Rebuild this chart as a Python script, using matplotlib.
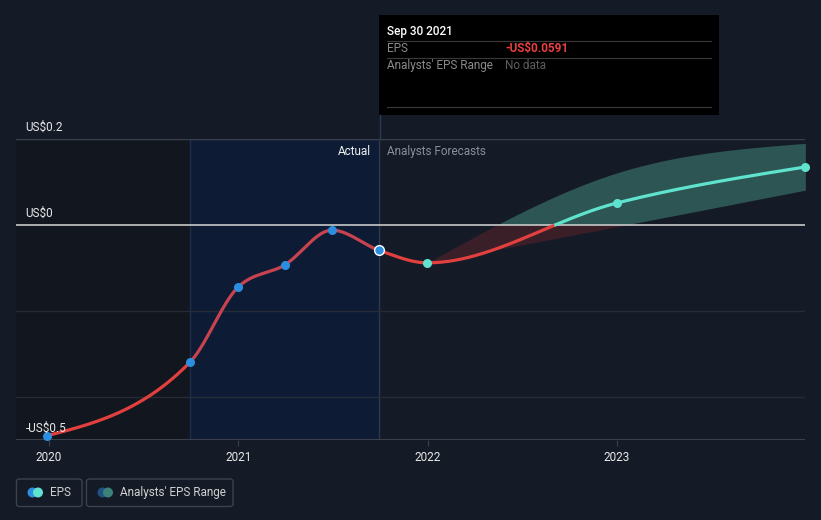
import numpy as np
import matplotlib
matplotlib.use("Agg")
import matplotlib.pyplot as plt
from matplotlib.patches import Rectangle, FancyBboxPatch, Circle
from matplotlib.transforms import IdentityTransform

plt.rcParams['font.family'] = ['Roboto', 'DejaVu Sans']

# ---- data ----
actual_x = [2019.99, 2020.745, 2021.0, 2021.245, 2021.495, 2021.745]
actual_eps = [-0.490, -0.319, -0.144, -0.093, -0.012, -0.0591]
forecast_x = [2021.745, 2021.998, 2022.998, 2023.995]
forecast_eps = [-0.0591, -0.088, 0.051, 0.135]
range_x = [2021.998, 2022.998, 2023.995]
range_low = [-0.088, -0.004, 0.081]
range_high = [-0.088, 0.121, 0.190]
year_ticks = [2020, 2021, 2022, 2023]
y_ticks = [0.2, 0.0, -0.5]
y_labels = ["US$0.2", "US$0", "-US$0.5"]

BG = "#151b26"
RED = "#e2403f"
TEAL = "#5fe3cf"
BLUE = "#2b8ee0"


def monotone(xs, ys, n=200):
    xs = np.asarray(xs, float); ys = np.asarray(ys, float)
    h = np.diff(xs); s = np.diff(ys) / h
    m = np.zeros_like(ys)
    for i in range(1, len(xs) - 1):
        p = (s[i - 1] * h[i] + s[i] * h[i - 1]) / (h[i - 1] + h[i])
        m[i] = (np.sign(s[i - 1]) + np.sign(s[i])) * min(abs(s[i - 1]), abs(s[i]), 0.5 * abs(p))
    if len(xs) > 2:
        m[0] = (3 * s[0] - m[1]) / 2
        m[-1] = (3 * s[-1] - m[-2]) / 2
    else:
        m[0] = m[-1] = s[0]
    xo, yo = [], []
    for i in range(len(xs) - 1):
        t = np.linspace(0, 1, n)
        hh = h[i]
        h00 = 2 * t**3 - 3 * t**2 + 1
        h10 = t**3 - 2 * t**2 + t
        h01 = -2 * t**3 + 3 * t**2
        h11 = t**3 - t**2
        yy = h00 * ys[i] + h10 * hh * m[i] + h01 * ys[i + 1] + h11 * hh * m[i + 1]
        xo.append(xs[i] + t * hh); yo.append(yy)
    return np.concatenate(xo), np.concatenate(yo)


fig = plt.figure(figsize=(8.21, 5.20), dpi=100, facecolor=BG)
ax = fig.add_axes([16 / 821, (520 - 440) / 520, 789 / 821, 301 / 520])
ax.set_facecolor(BG)
x0, x1 = 2019.826, 2023.993
ax.set_xlim(x0, x1)
ax.set_ylim(-0.5, 0.2)
for sp in ax.spines.values():
    sp.set_visible(False)
ax.set_yticks([])
ax.set_xticks(year_ticks)
ax.set_xticklabels([str(y) for y in year_ticks], color="#e8e8e8", fontsize=8.5)
ax.tick_params(axis='x', length=4, color="#3a404c", pad=4)

# background regions
ax.add_patch(Rectangle((x0, -0.5), 2020.745 - x0, 0.7, facecolor="#12161e", edgecolor="none", zorder=0))
ax.add_patch(Rectangle((2020.745, -0.5), 2021.745 - 2020.745, 0.7, facecolor="#0d1c34", edgecolor="none", zorder=0))
ax.axvline(2020.745, color="#1e2e48", lw=1, zorder=1)
ax.axvline(2021.745, color="#2a3850", lw=1, zorder=1)

# grid lines
for v in [-0.2, -0.4]:
    ax.axhline(v, color="#262c37", lw=1, zorder=1)
ax.axhline(0.2, color="#3b414c", lw=1, zorder=1)
ax.axhline(-0.5, color="#3b414c", lw=1.5, zorder=1)

# range band
bx, bl = monotone(range_x, range_low)
_, bh = monotone(range_x, range_high)
ax.fill_between(bx, np.maximum(bl, 0), np.maximum(bh, 0), color="#2c5553", lw=0, zorder=2)
ax.fill_between(bx, np.minimum(bl, 0), np.minimum(bh, 0), color="#3a1f28", lw=0, zorder=2)

ax.axhline(0, color="#c8c8c8", lw=1.2, zorder=3)

# EPS line
lx, ly = monotone(actual_x + forecast_x[1:], actual_eps + forecast_eps[1:])
in_hl = (lx >= 2020.745) & (lx <= 2021.745)
before = lx <= 2020.745
after = lx >= 2021.745
ax.plot(lx[before], ly[before], color=RED, lw=2.3, zorder=4, solid_capstyle='round')
ax.plot(lx[in_hl], ly[in_hl], color="#c8434f", lw=2.3, zorder=4, solid_capstyle='round')
ya = np.where(ly <= 0, ly, np.nan)
yb = np.where(ly >= 0, ly, np.nan)
ax.plot(lx[after], ya[after], color=RED, lw=2.3, zorder=4)
ax.plot(lx[after], yb[after], color=TEAL, lw=2.3, zorder=4)

ax.plot(actual_x[:-1], actual_eps[:-1], 'o', color=BLUE, ms=6.5, mec='none', zorder=5, clip_on=False)
ax.plot(actual_x[-1:], actual_eps[-1:], 'o', color=BLUE, ms=7, mec='white', mew=1, zorder=6, clip_on=False)
ax.plot(forecast_x[1:], forecast_eps[1:], 'o', color=TEAL, ms=6.5, mec='none', zorder=5, clip_on=False)

# y labels
for v, lab in zip(y_ticks, y_labels):
    ax.annotate(lab, (x0, v), xytext=(7, 3.5), textcoords='offset points',
                color="#e8e8e8", fontsize=8.5, va='bottom', ha='left', zorder=7)

ax.text(2021.745 - 0.045, 0.186, "Actual", color="#f0f0f0", fontsize=8.5, ha='right', va='top', zorder=7)
ax.text(2021.745 + 0.04, 0.186, "Analysts Forecasts", color="#8a8f98", fontsize=8.5, ha='left', va='top', zorder=7)


def fy(p):
    return (520 - p) / 520


def fx(p):
    return p / 821


# tooltip vertical line
fig.add_artist(plt.Line2D([fx(379.5), fx(379.5)], [fy(115), fy(139)], color="#2a3850", lw=1))

# tooltip
fig.add_artist(Rectangle((fx(379), fy(115)), fx(719) - fx(379), fy(15) - fy(115), facecolor="black", edgecolor="none", transform=fig.transFigure))
for yy in [40.5, 57.5, 106.5]:
    fig.add_artist(plt.Line2D([fx(387), fx(711)], [fy(yy), fy(yy)], color="#3a3a3a", lw=0.8))
fig.text(fx(387), fy(31), "Sep 30 2021", color="white", fontsize=8.5, va='center', ha='left', fontweight='medium')
fig.text(fx(387), fy(48.5), "EPS", color="#8a8a8a", fontsize=8.5, va='center', ha='left')
fig.text(fx(505), fy(48.5), "-US$0.0591", color="#e8403f", fontsize=8.5, va='center', ha='left', fontweight='bold')
fig.text(fx(387), fy(65.5), "Analysts' EPS Range", color="#8a8a8a", fontsize=8.5, va='center', ha='left')
fig.text(fx(505), fy(65.5), "No data", color="#5e5e5e", fontsize=8.5, va='center', ha='left')


# legend
def legend_box(xl, xr, c1, c2, label):
    fig.add_artist(FancyBboxPatch((fx(xl), fy(506.5)), fx(xr) - fx(xl), fy(479) - fy(506.5),
                                  boxstyle="round,pad=0,rounding_size=0.004", facecolor=BG,
                                  edgecolor="#3c414c", lw=1, transform=fig.transFigure))
    cy = 520 - 492.5
    r = 5
    fig.add_artist(Circle((xl + 16, cy), r, facecolor=c1, edgecolor='none', transform=IdentityTransform()))
    fig.add_artist(Circle((xl + 21.5, cy), r, facecolor=c2, edgecolor='none', transform=IdentityTransform()))
    fig.text(fx(xl + 33), fy(492.5), label, color="#d0d0d0", fontsize=8.5, va='center', ha='left')


legend_box(16.5, 82, "#2b8ee0", TEAL, "EPS")
legend_box(86.5, 233, "#1f5282", "#3b827a", "Analysts' EPS Range")

fig.savefig("out.png", dpi=100, facecolor=BG)
